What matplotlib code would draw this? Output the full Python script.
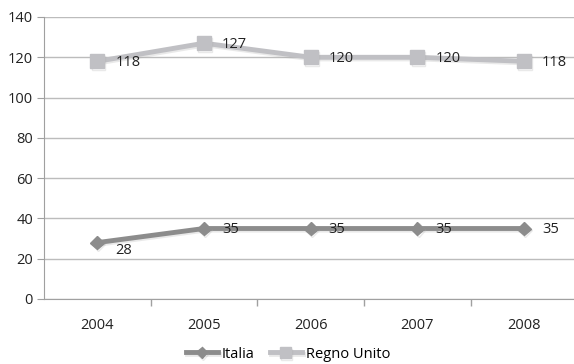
import matplotlib.pyplot as plt
import matplotlib.patheffects as pe

plt.rcParams['font.family'] = ['Open Sans', 'DejaVu Sans']

years = ["2004", "2005", "2006", "2007", "2008"]
italia = [28, 35, 35, 35, 35]
regno_unito = [118, 127, 120, 120, 118]
y_ticks = [0, 20, 40, 60, 80, 100, 120, 140]

fig = plt.figure(figsize=(5.74, 3.64), dpi=100)
ax = fig.add_axes([44 / 574, 65 / 364, 530 / 574, 282 / 364])

x = list(range(len(years)))
shadow = [pe.SimpleLineShadow(offset=(0.8, -1.2), shadow_color='#aaaaaa', alpha=0.25), pe.Normal()]

l1, = ax.plot(x, italia, color='#8c8c8c', lw=3.5, marker='D', ms=7,
              label='Italia', path_effects=shadow, zorder=3)
l2, = ax.plot(x, regno_unito, color='#c0c0c4', lw=3.5, marker='s', ms=10,
              label='Regno Unito', path_effects=shadow, zorder=3)

for xi, v in zip(x, italia):
    dy = -6 if v == min(italia) else -1
    ax.annotate(str(v), (xi, v), xytext=(13, dy), textcoords='offset points',
                ha='left', va='center', fontsize=10.5, color='#222222')
for xi, v in zip(x, regno_unito):
    ax.annotate(str(v), (xi, v), xytext=(13, -1), textcoords='offset points',
                ha='left', va='center', fontsize=10.5, color='#222222')

ax.set_xlim(-0.5, 4.468)
ax.set_ylim(0, 140)
ax.set_yticks(y_ticks)
ax.set_xticks(x)
ax.set_xticklabels(years)
ax.set_xticks([i + 0.5 for i in range(len(years) - 1)], minor=True)
ax.tick_params(axis='x', which='major', length=0, pad=14, labelsize=10.5, colors='#222222')
ax.tick_params(axis='x', which='minor', length=5, color='#a0a0a0', width=1)
ax.tick_params(axis='y', length=5, color='#a0a0a0', labelsize=10.5, labelcolor='#222222', pad=3)

ax.grid(axis='y', color='#bcbcbc', lw=1)
ax.set_axisbelow(True)
for s in ['top', 'right']:
    ax.spines[s].set_visible(False)
ax.spines['left'].set_color('#a0a0a0')
ax.spines['bottom'].set_color('#a0a0a0')

fig.legend(handles=[l1, l2], loc='center', bbox_to_anchor=(288 / 574, 10 / 364),
           ncol=2, frameon=False, fontsize=10.5, handlelength=2.2, markerscale=0.8,
           columnspacing=1.0, handletextpad=0.3)

fig.savefig('out.png', dpi=100)
